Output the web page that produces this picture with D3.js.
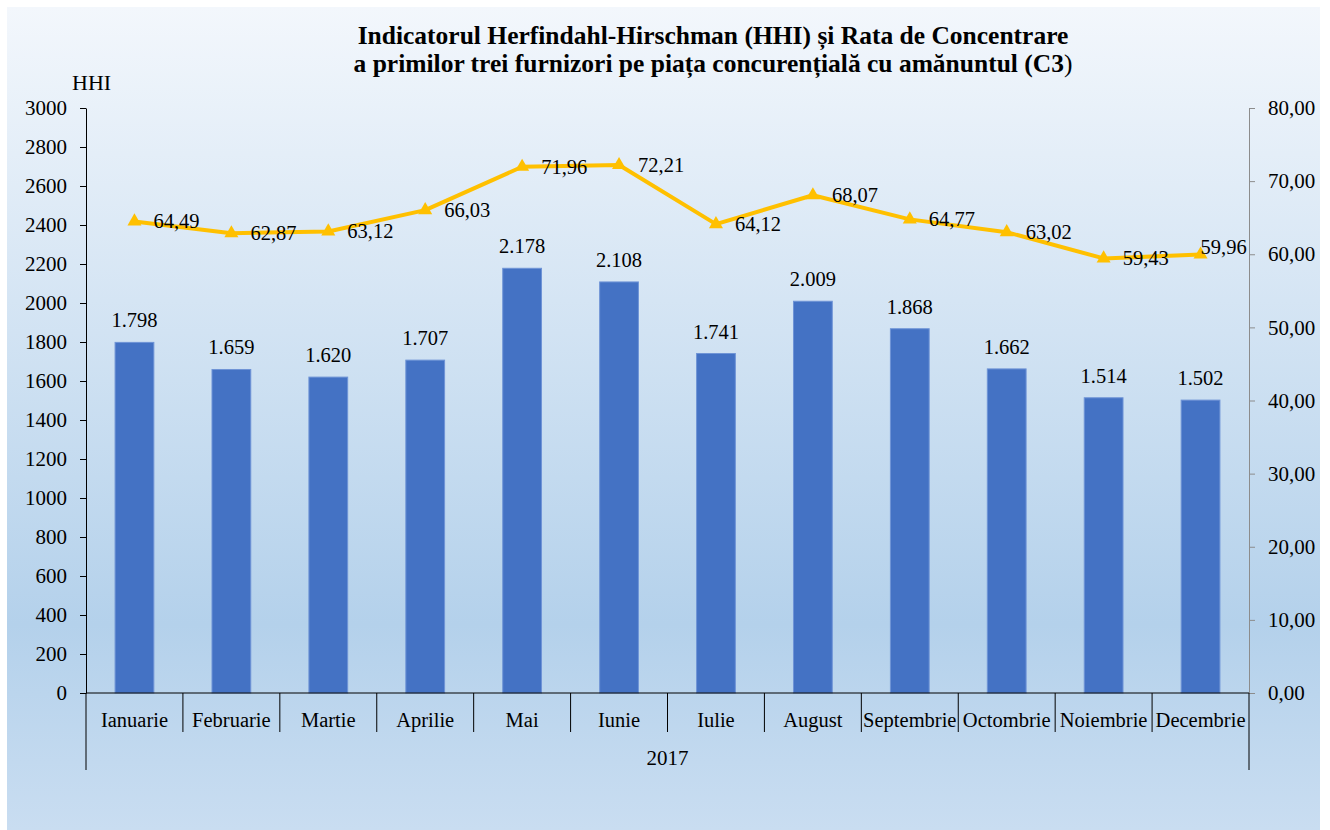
<!DOCTYPE html>
<html>
<head>
<meta charset="utf-8">
<script src="https://cdn.jsdelivr.net/npm/d3@7"></script>
<style>
  body { margin: 0; background: #fff; }
  svg text { font-family: "Liberation Serif", "Times New Roman", serif; fill: #000; }
</style>
</head>
<body>
<svg id="chart" width="1330" height="830"></svg>
<script>
const months = ['Ianuarie', 'Februarie', 'Martie', 'Aprilie', 'Mai', 'Iunie', 'Iulie', 'August', 'Septembrie', 'Octombrie', 'Noiembrie', 'Decembrie'];
const hhi = [1798, 1659, 1620, 1707, 2178, 2108, 1741, 2009, 1868, 1662, 1514, 1502];
const c3 = [64.49, 62.87, 63.12, 66.03, 71.96, 72.21, 64.12, 68.07, 64.77, 63.02, 59.43, 59.96];
const hhiTicks = d3.range(0, 3001, 200);
const c3Ticks = d3.range(0, 81, 10);
const yearLabel = '2017';

const serif = '"Liberation Serif", "Times New Roman", serif';
const svg = d3.select('#chart');
const width = +svg.attr('width');

// background gradient
const defs = svg.append('defs');
const grad = defs.append('linearGradient').attr('id', 'bg').attr('x1', 0).attr('y1', 0).attr('x2', 0).attr('y2', 1);
grad.append('stop').attr('offset', '0%').attr('stop-color', '#f3f7fc');
grad.append('stop').attr('offset', '75%').attr('stop-color', '#b4d1eb');
grad.append('stop').attr('offset', '100%').attr('stop-color', '#c9ddf1');
svg.append('rect').attr('x', 7).attr('y', 7).attr('width', 1313).attr('height', 823).attr('fill', 'url(#bg)');

const margin = {top: 108, left: 86, right: 81, bottom: 137};
const innerW = width - margin.left - margin.right;
const innerH = 830 - margin.top - margin.bottom;

const x = d3.scaleBand().domain(months).range([0, innerW]);
const yL = d3.scaleLinear().domain([0, 3000]).range([innerH, 0]);
const yR = d3.scaleLinear().domain([0, 80]).range([innerH, 0]);

const g = svg.append('g').attr('transform', `translate(${margin.left},${margin.top})`);

// title
const title = svg.append('text').attr('x', 713).attr('y', 44).attr('text-anchor', 'middle')
  .style('font-size', '25.5px').style('font-weight', 'bold');
title.append('tspan').attr('x', 713).text('Indicatorul Herfindahl-Hirschman (HHI) și Rata de Concentrare');
const t2 = title.append('tspan').attr('x', 713).attr('dy', 28).text('a primilor trei furnizori pe piața concurențială cu amănuntul (C3');
t2.append('tspan').style('font-weight', 'normal').text(')');

svg.append('text').attr('x', 72).attr('y', 90).style('font-size', '22px').text('HHI');

// left axis
const axL = g.append('g').call(d3.axisLeft(yL).tickValues(hhiTicks).tickSize(6).tickPadding(13).tickSizeOuter(0).tickFormat(d3.format('d')));
axL.select('.domain').attr('stroke', '#000');
axL.selectAll('.tick line').attr('stroke', '#000');
axL.selectAll('.tick text').style('font-size', '21px').style('font-family', serif).attr('fill', '#000');

// right axis
const axR = g.append('g').attr('transform', `translate(${innerW},0)`)
  .call(d3.axisRight(yR).tickValues(c3Ticks).tickSize(6).tickPadding(13).tickSizeOuter(0)
    .tickFormat(d => d3.format('.2f')(d).replace('.', ',')));
axR.select('.domain').attr('stroke', '#8c8c8c');
axR.selectAll('.tick line').attr('stroke', '#8c8c8c');
axR.selectAll('.tick text').style('font-size', '21px').style('font-family', serif).attr('fill', '#000');

// bars
const barW = x.bandwidth() * 0.4;
g.selectAll('rect.bar').data(hhi).enter().append('rect')
  .attr('class', 'bar')
  .attr('x', (d, i) => x(months[i]) + (x.bandwidth() - barW) / 2)
  .attr('y', d => yL(d))
  .attr('width', barW)
  .attr('height', d => innerH - yL(d))
  .attr('fill', '#4472c4')
  .attr('stroke', '#6f94d6').attr('stroke-width', 1);

g.selectAll('text.barlbl').data(hhi).enter().append('text')
  .attr('class', 'barlbl')
  .attr('x', (d, i) => x(months[i]) + x.bandwidth() / 2)
  .attr('y', d => yL(d) - 15)
  .attr('text-anchor', 'middle')
  .style('font-size', '20.5px')
  .text(d => d3.format(',')(d).replace(',', '.'));

// category axis
const xAxis = g.append('g').attr('transform', `translate(0,${innerH})`);
xAxis.append('line').attr('x1', 0).attr('x2', innerW).attr('stroke', '#000');
xAxis.selectAll('line.sep').data(d3.range(months.length + 1)).enter().append('line')
  .attr('class', 'sep')
  .attr('x1', i => i * x.step()).attr('x2', i => i * x.step())
  .attr('y1', 0).attr('y2', (i) => (i === 0 || i === months.length) ? 77 : 39)
  .attr('stroke', '#000');
xAxis.selectAll('text.mon').data(months).enter().append('text')
  .attr('class', 'mon')
  .attr('x', d => x(d) + x.bandwidth() / 2)
  .attr('y', 34)
  .attr('text-anchor', 'middle')
  .style('font-size', '20.5px')
  .text(d => d);
xAxis.append('text').attr('x', innerW / 2).attr('y', 72).attr('text-anchor', 'middle')
  .style('font-size', '21px').text(yearLabel);

// line
const cx = (d, i) => x(months[i]) + x.bandwidth() / 2;
const line = d3.line().x(cx).y(d => yR(d));
g.append('path').datum(c3).attr('d', line)
  .attr('fill', 'none').attr('stroke', '#ffc000').attr('stroke-width', 4).attr('stroke-linejoin', 'round');
g.selectAll('path.mk').data(c3).enter().append('path')
  .attr('class', 'mk')
  .attr('d', d3.symbol().type(d3.symbolTriangle).size(85))
  .attr('transform', (d, i) => `translate(${cx(d, i)},${yR(d)})`)
  .attr('fill', '#ffc000');
// last label sits above-right so it stays clear of the right axis
const last = c3.length - 1;
g.selectAll('text.linelbl').data(c3).enter().append('text')
  .attr('class', 'linelbl')
  .attr('x', (d, i) => cx(d, i) + (i === last ? 0 : 19))
  .attr('y', (d, i) => yR(d) + (i === last ? -1 : 7))
  .style('font-size', '20.5px')
  .text(d => d3.format('.2f')(d).replace('.', ','));
</script>
</body>
</html>
